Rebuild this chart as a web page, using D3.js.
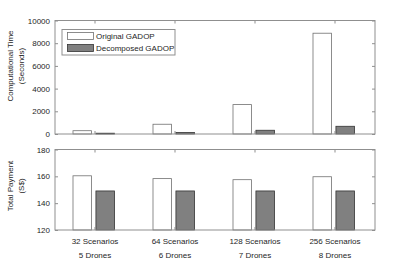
<!DOCTYPE html>
<html>
<head>
<meta charset="utf-8">
<script src="https://cdn.jsdelivr.net/npm/d3@7"></script>
<style>
  body { margin: 0; background: #fff; }
  text { font-family: "Liberation Sans", Arial, sans-serif; fill: #262626; }
</style>
</head>
<body>
<div class="chart"></div>
<script>
// data
const scenarios = ['32 Scenarios', '64 Scenarios', '128 Scenarios', '256 Scenarios'];
const drones = ['5 Drones', '6 Drones', '7 Drones', '8 Drones'];
const seriesNames = ['Original GADOP', 'Decomposed GADOP'];
const timeOriginal = [290, 860, 2590, 8880];
const timeDecomposed = [70, 130, 330, 680];
const payOriginal = [160.4, 158.3, 157.5, 159.7];
const payDecomposed = [149.1, 149.1, 149.1, 149.1];
const timeTicks = [0, 2000, 4000, 6000, 8000, 10000];
const payTicks = [120, 140, 160, 180];

const width = 415, height = 276;
const left = 55, right = 375;
const boxColor = '#8f8f8f';
const fills = ['#ffffff', '#808080'];
const strokes = ['#707070', '#333333'];

const svg = d3.select('.chart').append('svg')
    .attr('width', width)
    .attr('height', height);

const x = d3.scaleBand().domain(scenarios).range([left, right]).padding(0);
const xSub = d3.scaleBand().domain([0, 1]).range([-22, 19.5]).paddingInner(0.19);

function panel(top, bottom, domain, ticks, s1, s2, labelLines, labelY) {
    const y = d3.scaleLinear().domain(domain).range([bottom, top]);
    const g = svg.append('g');

    const rows = scenarios.map((c, i) => [s1[i], s2[i]]);
    const groups = g.selectAll('g.grp')
        .data(rows)
        .enter()
        .append('g')
        .attr('transform', (d, i) => `translate(${x(scenarios[i]) + x.bandwidth() / 2},0)`);
    groups.selectAll('rect')
        .data(d => d)
        .enter()
        .append('rect')
        .attr('x', (d, j) => xSub(j))
        .attr('width', xSub.bandwidth())
        .attr('y', d => y(d))
        .attr('height', d => y(domain[0]) - y(d))
        .attr('fill', (d, j) => fills[j])
        .attr('stroke', (d, j) => strokes[j])
        .attr('stroke-width', 0.8);

    // left axis with labels
    const yAxis = d3.axisLeft(y).tickValues(ticks).tickSize(-3).tickPadding(5)
        .tickFormat(d3.format('d'));
    const ga = g.append('g').attr('transform', `translate(${left},0)`).call(yAxis);
    ga.select('.domain').remove();
    ga.selectAll('line').attr('stroke', boxColor);
    ga.selectAll('text').attr('font-size', 8).style('fill', '#262626');

    // right ticks
    const gr = g.append('g').attr('transform', `translate(${right},0)`)
        .call(d3.axisRight(y).tickValues(ticks).tickSize(-3).tickFormat(''));
    gr.select('.domain').remove();
    gr.selectAll('line').attr('stroke', boxColor);

    // top and bottom category ticks
    const centers = d => x(d) + x.bandwidth() / 2;
    g.selectAll('line.tt')
        .data(scenarios)
        .enter()
        .append('line')
        .attr('x1', centers).attr('x2', centers)
        .attr('y1', top).attr('y2', top + 3)
        .attr('stroke', boxColor);
    g.selectAll('line.bt')
        .data(scenarios)
        .enter()
        .append('line')
        .attr('x1', centers).attr('x2', centers)
        .attr('y1', bottom).attr('y2', bottom - 3)
        .attr('stroke', boxColor);

    g.append('rect')
        .attr('x', left).attr('y', top)
        .attr('width', right - left).attr('height', bottom - top)
        .attr('fill', 'none')
        .attr('stroke', boxColor)
        .attr('stroke-width', 1);

    const lab = g.append('text')
        .attr('transform', `translate(13,${labelY}) rotate(-90)`)
        .attr('text-anchor', 'middle')
        .attr('font-size', 8);
    lab.selectAll('tspan')
        .data(labelLines)
        .enter()
        .append('tspan')
        .attr('x', 0)
        .attr('dy', (d, i) => i === 0 ? 0 : 10.5)
        .text(d => d);
    return y;
}

panel(20.5, 134, [0, 10000], timeTicks, timeOriginal, timeDecomposed,
    ['Computational Time', '(Seconds)'], 66);
panel(149.5, 230, [120, 180], payTicks, payOriginal, payDecomposed,
    ['Total Payment', '(S$)'], 186);

// category labels below
svg.selectAll('text.cat')
    .data(scenarios)
    .enter()
    .append('text')
    .attr('x', d => x(d) + x.bandwidth() / 2)
    .attr('y', 244)
    .attr('text-anchor', 'middle')
    .attr('font-size', 8)
    .text(d => d);
svg.selectAll('text.dr')
    .data(drones)
    .enter()
    .append('text')
    .attr('x', (d, i) => x(scenarios[i]) + x.bandwidth() / 2)
    .attr('y', 257.5)
    .attr('text-anchor', 'middle')
    .attr('font-size', 8)
    .text(d => d);

// legend
const lg = svg.append('g');
lg.append('rect')
    .attr('x', 62).attr('y', 29.5)
    .attr('width', 113).attr('height', 25.5)
    .attr('fill', '#fff')
    .attr('stroke', boxColor);
seriesNames.forEach((name, i) => {
    lg.append('rect')
        .attr('x', 67.5).attr('y', 32.5 + i * 12)
        .attr('width', 26).attr('height', 7)
        .attr('fill', fills[i])
        .attr('stroke', strokes[i])
        .attr('stroke-width', 0.8);
    lg.append('text')
        .attr('x', 96).attr('y', 39 + i * 12)
        .attr('font-size', 8)
        .text(name);
});
</script>
</body>
</html>
